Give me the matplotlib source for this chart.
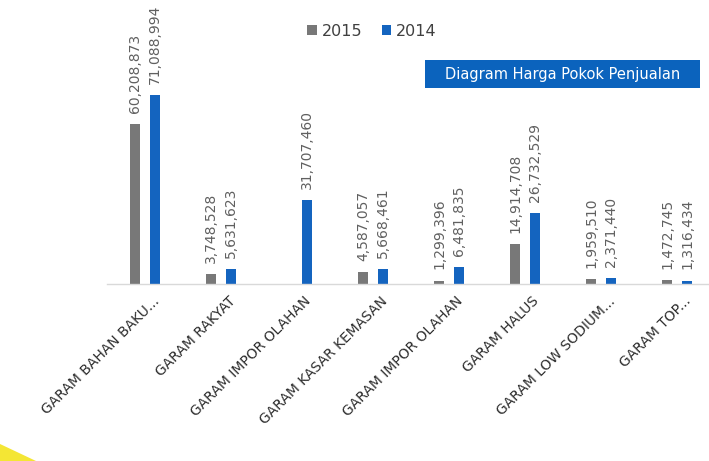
import matplotlib
matplotlib.use("Agg")
import matplotlib.pyplot as plt
from matplotlib.patches import Patch, Rectangle, Polygon
from matplotlib.transforms import ScaledTranslation
import numpy as np

# Data: cost of goods sold per salt product
categories = [
    "GARAM BAHAN BAKU...",
    "GARAM RAKYAT",
    "GARAM IMPOR OLAHAN",
    "GARAM KASAR KEMASAN",
    "GARAM IMPOR OLAHAN",
    "GARAM HALUS",
    "GARAM LOW SODIUM...",
    "GARAM TOP...",
]
values_2015 = [60208873, 3748528, None, 4587057, 1299396, 14914708, 1959510, 1472745]
values_2014 = [71088994, 5631623, 31707460, 5668461, 6481835, 26732529, 2371440, 1316434]
series_labels = ["2015", "2014"]

GRAY = "#787878"
BLUE = "#1464bf"
LABEL_GRAY = "#606060"

W, H = 709, 461
fig = plt.figure(figsize=(W / 100, H / 100), dpi=100)
fig.patch.set_facecolor("white")

# plot area: baseline at y=284 px, top at y=40 px
ax_left, ax_right = 107 / W, 1.0
ax_bottom, ax_top = 1 - 284 / H, 1 - 40 / H
ax = fig.add_axes([ax_left, ax_bottom, ax_right - ax_left, ax_top - ax_bottom])

x = np.arange(len(categories))
bw = 0.125
off = 0.13

ymax = max(values_2014) * (244 / 189)
ax.set_xlim(-0.5, 7.42)
ax.set_ylim(0, ymax)

def fmt(v):
    return f"{v:,}"

for xi, v in zip(x, values_2015):
    if v is None:
        continue
    ax.bar(xi - off, v, width=bw, color=GRAY, zorder=2)
    ax.annotate(fmt(v), (xi - off, v), xytext=(0, 8), textcoords="offset points",
                rotation=90, ha="center", va="bottom", fontsize=10,
                color=LABEL_GRAY, annotation_clip=False)

for xi, v in zip(x, values_2014):
    ax.bar(xi + off, v, width=bw, color=BLUE, zorder=2)
    ax.annotate(fmt(v), (xi + off, v), xytext=(0, 8), textcoords="offset points",
                rotation=90, ha="center", va="bottom", fontsize=10,
                color=LABEL_GRAY, annotation_clip=False)

for s in ["top", "right", "left"]:
    ax.spines[s].set_visible(False)
ax.spines["bottom"].set_color("#d9d9d9")
ax.spines["bottom"].set_linewidth(1.0)
ax.set_yticks([])
ax.set_xticks(x)
ax.set_xticklabels(categories, rotation=45, ha="right", va="center",
                   rotation_mode="anchor", fontsize=10, color="#2e2e2e")
ax.tick_params(axis="x", length=0, pad=0)
shift = ScaledTranslation(12 / 100, -15 / 100, fig.dpi_scale_trans)
for lbl in ax.get_xticklabels():
    lbl.set_transform(lbl.get_transform() + shift)

# legend
handles = [Patch(facecolor=GRAY, label=series_labels[0]),
           Patch(facecolor=BLUE, label=series_labels[1])]
fig.legend(handles=handles, loc="center", bbox_to_anchor=(372 / W, 1 - 31 / H),
           ncol=2, frameon=False, fontsize=11.5, handlelength=0.6, handleheight=0.6,
           handletextpad=0.3, columnspacing=1.2, labelcolor="#404040")

# title banner
fig.patches.append(Rectangle((425 / W, 1 - 88 / H), 275 / W, 28 / H,
                             transform=fig.transFigure, facecolor="#0b63bd",
                             edgecolor="none", zorder=1))
fig.text((425 + 275 / 2) / W, 1 - 74 / H, "Diagram Harga Pokok Penjualan",
         ha="center", va="center", color="white", fontsize=10.5, zorder=2)

# yellow corner accent
fig.patches.append(Polygon([(0, 0), (0, 17 / H), (36 / W, 0)], closed=True,
                           transform=fig.transFigure, facecolor="#f4e634",
                           edgecolor="none", zorder=0))

fig.savefig("out.png", dpi=100)
